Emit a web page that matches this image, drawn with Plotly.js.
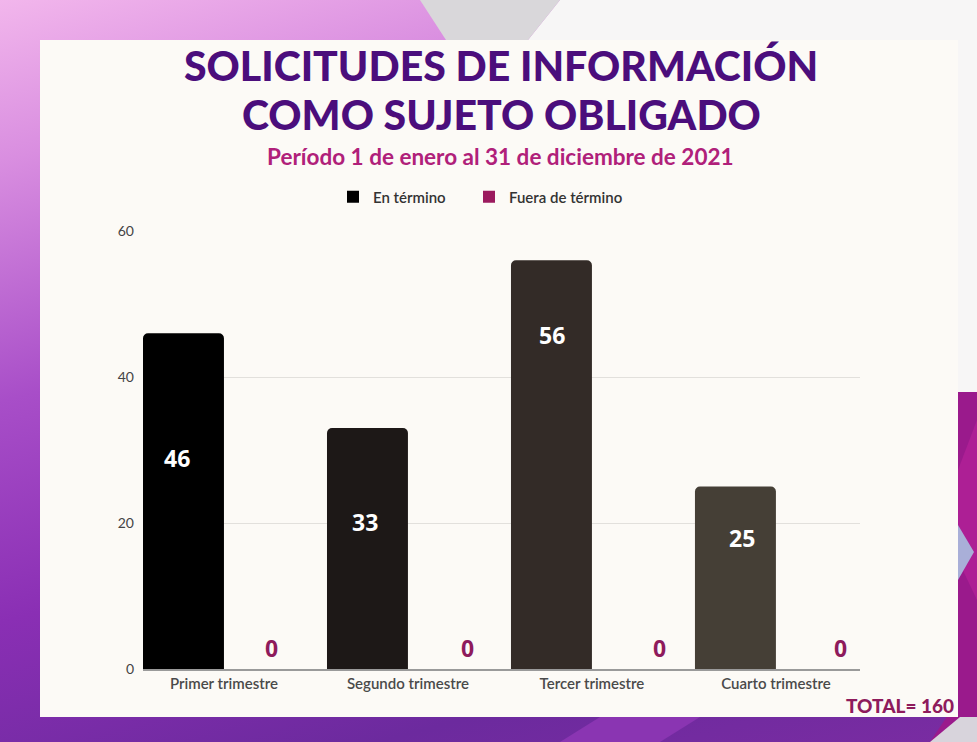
<!DOCTYPE html>
<html>
<head>
<meta charset="utf-8">
<script src="https://cdn.plot.ly/plotly-3.0.1.min.js"></script>
<style>
  html, body { margin: 0; padding: 0; }
  #chart {
    width: 977px; height: 742px;
    background: linear-gradient(165deg, #f2b6ec 0%, #d98ee0 16%, #a84ec8 40%, #8a2fb4 62%, #6c2a9e 84%, #7a2ca2 100%);
  }
</style>
</head>
<body>
<div id="chart"></div>
<script>
// ---- data ----
const categories = ["Primer trimestre", "Segundo trimestre", "Tercer trimestre", "Cuarto trimestre"];
const enTermino = [46, 33, 56, 25];
const fueraTermino = [0, 0, 0, 0];
const seriesNames = ["En término", "Fuera de término"];
const yTicks = [0, 20, 40, 60];
const totalLabel = "TOTAL= 160";

// ---- style ----
const W = 977, H = 742;
const barColors = ["#000000", "#1d1817", "#332b27", "#453f36"];
const legendColors = ["#000000", "#9b1a5e"];
const labelDrop = [125, 94, 75, 51];   // px below bar top for value labels
const labelShiftX = [-47, -43, -40, -34]; // px from category centre for value labels
const zeroShiftX = [48, 60, 68, 65];    // px from category centre for zero labels
const magenta = "#8e1b5c";

function P(x, y) { return (x / W).toFixed(5) + "," + (1 - y / H).toFixed(5); }
function path(pts) { return "M" + pts.map(p => P(p[0], p[1])).join(" L") + " Z"; }
function shape(pts, color) {
  return { type: "path", xref: "paper", yref: "paper", path: path(pts),
           fillcolor: color, line: { width: 0 }, layer: "below" };
}

const shapes = [
  shape([[560, 0], [977, 0], [977, 392], [958, 392], [958, 40], [528, 40]], "#f7f6f6"),
  shape([[420, 0], [560, 0], [528, 40], [446, 40]], "#d9d7da"),
  shape([[958, 392], [977, 392], [977, 742], [930, 742], [958, 700]], "#9a1a8c"),
  shape([[958, 470], [977, 420], [977, 600], [958, 560]], "#ad1f95"),
  shape([[958, 525], [974, 552], [958, 580]], "#a9afd8"),
  shape([[600, 717], [700, 717], [660, 742], [560, 742]], "#8a35b2"),
  shape([[930, 742], [960, 717], [977, 717], [977, 742]], "#d8d4dc"),
  { type: "rect", xref: "paper", yref: "paper", x0: 40 / W, x1: 958 / W, y0: 1 - 717 / H, y1: 1 - 40 / H,
    fillcolor: "#fcfaf6", line: { width: 0 }, layer: "below" }
];

const traces = [
  {
    type: "bar", name: seriesNames[0], x: categories, y: enTermino,
    marker: { color: barColors, cornerradius: 5 }, showlegend: false,
    hoverinfo: "skip"
  },
  {
    type: "bar", name: seriesNames[1], x: categories, y: fueraTermino,
    marker: { color: legendColors[1] }, showlegend: false,
    hoverinfo: "skip"
  },
  // legend entries (square swatches), drawn on hidden axes
  { type: "bar", name: seriesNames[0], x: [0], y: [null], xaxis: "x2", yaxis: "y2",
    marker: { color: legendColors[0] }, hoverinfo: "skip", legend: "legend" },
  { type: "bar", name: seriesNames[1], x: [0], y: [null], xaxis: "x2", yaxis: "y2",
    marker: { color: legendColors[1] }, hoverinfo: "skip", legend: "legend2" }
];

const annotations = [
  { text: "SOLICITUDES DE INFORMACIÓN", xref: "paper", yref: "paper", x: 501 / W, y: 1 - 65 / H,
    showarrow: false, xanchor: "center", yanchor: "middle",
    font: { family: "Lato", size: 41, color: "#4b0e7c", weight: 900 } },
  { text: "COMO SUJETO OBLIGADO", xref: "paper", yref: "paper", x: 501 / W, y: 1 - 114 / H,
    showarrow: false, xanchor: "center", yanchor: "middle",
    font: { family: "Lato", size: 41, color: "#4b0e7c", weight: 900 } },
  { text: "Período 1 de enero al 31 de diciembre de 2021", xref: "paper", yref: "paper", x: 500 / W, y: 1 - 157 / H,
    showarrow: false, xanchor: "center", yanchor: "middle",
    font: { family: "Lato", size: 22.5, color: "#b0207a", weight: 700 } },
  { text: totalLabel, xref: "paper", yref: "paper", x: 956 / W, y: 1 - 705 / H,
    showarrow: false, xanchor: "right", yanchor: "middle",
    font: { family: "Lato", size: 19, color: magenta, weight: 900 } }
];
enTermino.forEach((v, i) => {
  annotations.push({
    text: String(v), x: categories[i], y: v, xref: "x", yref: "y",
    xshift: labelShiftX[i], yshift: -labelDrop[i], showarrow: false, yanchor: "middle",
    font: { family: "Open Sans", size: 23, color: "#ffffff", weight: 700 }
  });
});
fueraTermino.forEach((v, i) => {
  annotations.push({
    text: String(v), x: categories[i], y: v, xref: "x", yref: "y",
    xshift: zeroShiftX[i], yshift: 21, showarrow: false, yanchor: "middle",
    font: { family: "Open Sans", size: 23, color: magenta, weight: 700 }
  });
});

const legendFont = { family: "Lato", size: 15, color: "#333", weight: 600 };
const layout = {
  width: W, height: H,
  margin: { l: 0, r: 0, t: 0, b: 0 },
  paper_bgcolor: "rgba(0,0,0,0)", plot_bgcolor: "rgba(0,0,0,0)",
  font: { family: "Lato", color: "#444" },
  barmode: "group", bargap: 0.12, bargroupgap: 0,
  showlegend: true,
  legend: { orientation: "h", x: 333 / W, y: 1 - 197 / H, xanchor: "left", yanchor: "middle",
            font: legendFont, itemclick: false, bgcolor: "rgba(0,0,0,0)" },
  legend2: { orientation: "h", x: 469 / W, y: 1 - 197 / H, xanchor: "left", yanchor: "middle",
            font: legendFont, itemclick: false, bgcolor: "rgba(0,0,0,0)" },
  xaxis: {
    domain: [143 / W, 860 / W], range: [-0.44, 3.457], type: "category",
    showline: true, linecolor: "#9a9a9a", linewidth: 1.5, showgrid: false, ticks: "",
    tickfont: { family: "Lato", size: 15, color: "#4a4a4a", weight: 600 }, fixedrange: true
  },
  yaxis: {
    domain: [1 - 669 / H, 1 - 231 / H], range: [0, 60], tickvals: yTicks,
    showgrid: true, gridcolor: "#e2e0dc", gridwidth: 1, zeroline: false, showline: false, ticks: "",
    ticklabelstandoff: 8,
    tickfont: { family: "Lato", size: 14, color: "#444" }, fixedrange: true
  },
  xaxis2: { domain: [0, 0.01], visible: false, anchor: "y2" },
  yaxis2: { domain: [0, 0.01], visible: false, anchor: "x2" },
  shapes: shapes,
  annotations: annotations
};

Plotly.newPlot("chart", traces, layout, { displayModeBar: false, staticPlot: true });
</script>
</body>
</html>
